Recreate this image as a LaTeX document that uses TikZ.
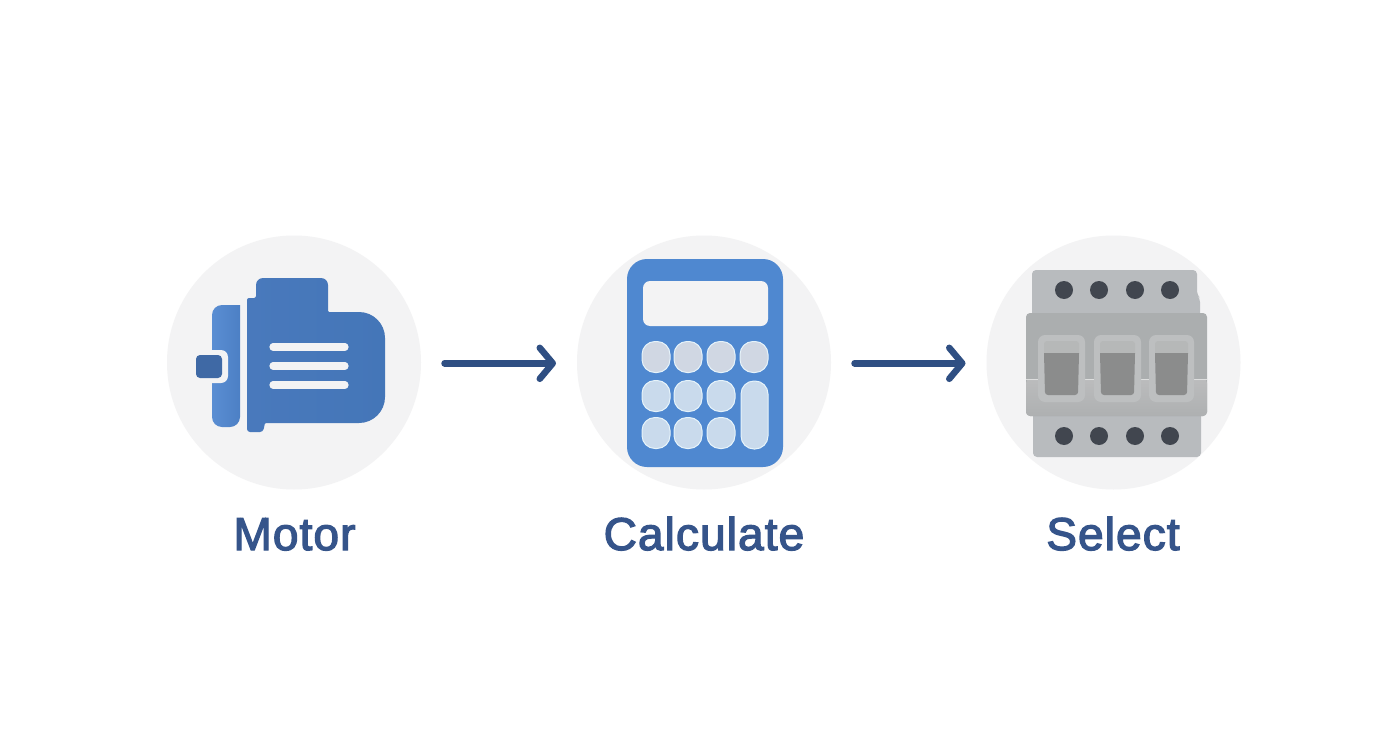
\documentclass[tikz,border=0pt]{standalone}
\usepackage{fontspec}
\usetikzlibrary{arrows.meta}
\newfontfamily\labfont[RawFeature={embolden=2.8},LetterSpace=2.4]{Liberation Sans}
\definecolor{disc}{HTML}{F3F3F4}
\definecolor{navy}{HTML}{2F4F83}
\definecolor{labc}{HTML}{35548A}
\definecolor{bodyL}{HTML}{4979BC}
\definecolor{bodyR}{HTML}{4476B8}
\definecolor{rearL}{HTML}{5A8ED3}
\definecolor{rearR}{HTML}{4C80C5}
\definecolor{plugc}{HTML}{3F69A5}
\definecolor{calcc}{HTML}{4F88D0}
\definecolor{keyc}{HTML}{C9DAEC}
\definecolor{keyg}{HTML}{D0D7E3}
\definecolor{keyline}{HTML}{E6F3FA}
\definecolor{railc}{HTML}{B8BBBE}
\definecolor{midU}{HTML}{ABAEAF}
\definecolor{midL}{HTML}{BBBCBD}
\definecolor{midB}{HTML}{AEB0B1}
\definecolor{collar}{HTML}{BDBFC0}
\definecolor{togU}{HTML}{B6B8B8}
\definecolor{togD}{HTML}{8B8C8C}
\definecolor{holec}{HTML}{41464F}
\definecolor{seam}{HTML}{DDDEDE}
\tikzset{
  x=1pt,y=-1pt,
  discnode/.style={circle,fill=disc,draw=none,minimum size=254pt,inner sep=0pt,outer sep=0pt},
  lab/.style={text=labc,font=\labfont\fontsize{46}{52}\selectfont,inner sep=0pt,anchor=base},
  flow/.style={draw=navy,line width=6.5pt,line cap=round,shorten <=23.5pt,shorten >=21pt,
    -{Straight Barb[length=13pt,width=31pt,line width=6.5pt,round]}},
  bar/.style={draw=disc,line width=7.2pt,line cap=round},
  keyb/.style={draw=keyline,line width=1pt,rounded corners=13pt},
  hole/.style={circle,fill=holec,minimum size=18pt,inner sep=0pt},
}
\begin{document}
\begin{tikzpicture}
\useasboundingbox (0,0) rectangle (1392,752);
\fill[white] (0,0) rectangle (1392,752);
\node[discnode] (motor) at (294,362.5) {};
\node[discnode] (calc) at (704,362.5) {};
\node[discnode] (breaker) at (1113.5,362.5) {};
% motor
\path[left color=rearL,right color=rearR,rounded corners=10pt]
  (240,305) -- (212,305) -- (212,427) -- (240,427) [sharp corners] -- cycle;
\fill[disc,rounded corners=7pt] (190,350) rectangle (228,383);
\path[left color=bodyL,right color=bodyR]
  [rounded corners=2pt] (247,432) -- (247,298) -- (256,298)
  [rounded corners=7pt] -- (256,278) -- (328,278)
  [rounded corners=1pt] -- (328,312)
  [rounded corners=26pt] -- (385,312) -- (385,423)
  [rounded corners=1pt] -- (265,423)
  [rounded corners=3pt] -- (263,432) -- cycle;
\fill[plugc,rounded corners=4pt] (196,355) rectangle (222,378);
\coordinate (ml1a) at (273,347); \coordinate (ml1b) at (345,347);
\coordinate (ml2a) at (273,366); \coordinate (ml2b) at (345,366);
\coordinate (ml3a) at (273,385); \coordinate (ml3b) at (345,385);
\draw[bar] (ml1a) -- (ml1b);
\draw[bar] (ml2a) -- (ml2b);
\draw[bar] (ml3a) -- (ml3b);
% calculator
\fill[calcc,rounded corners=20pt] (627,259) rectangle (783,467);
\fill[disc,rounded corners=7pt] (643,281) rectangle (768,326);
\foreach \xx in {656,688,721,754}
  \path[keyb,fill=keyg] (\xx-14,341.5) rectangle (\xx+14,372.5);
\foreach \yy in {396,433} \foreach \xx in {656,688,721}
  \path[keyb,fill=keyc] (\xx-14,\yy-15.5) rectangle (\xx+14,\yy+15.5);
\path[keyb,fill=keyc] (741,381) rectangle (768,449);
% breaker
\fill[railc,rounded corners=4pt] (1032,270) -- (1197,270) -- (1197,295) -- (1200,298) -- (1200,330) -- (1032,330) -- cycle;
\fill[railc,rounded corners=4pt] (1033,400) rectangle (1201,457);
\fill[midU,rounded corners=4pt] (1026,313) rectangle (1207,416);
\path[top color=midL,bottom color=midB,rounded corners=4pt] (1026,379) -- (1207,379) -- (1207,416) -- (1026,416) -- cycle;
\draw[line width=1.2pt,draw=seam] (1026,379.5) -- (1207,379.5);
\foreach \xa/\xb in {1038/1085,1094/1141,1149/1194}{
  \fill[collar,rounded corners=7pt] (\xa,335) rectangle (\xb,402);
  \fill[togU,rounded corners=3pt] (\xa+6,341) rectangle (\xb-6,360);
  \fill[togD] (\xa+6,353) -- (\xb-6,353) [rounded corners=3pt] -- (\xb-7,395) -- (\xa+7,395) [sharp corners] -- cycle;
}
\foreach \xx/\nn in {1064/a,1099/b,1135/c,1170/d}{
  \node[hole] (top\nn) at (\xx,290) {};
  \node[hole] (bot\nn) at (\xx,436) {};
}
% arrows
\draw[flow] ([yshift=-.8pt]motor.east) -- ([yshift=-.8pt]calc.west);
\draw[flow] ([yshift=-.8pt]calc.east) -- ([yshift=-.8pt]breaker.west);
% labels
\node[lab] (lm) at (294.5,550) {Motor};
\node[lab] (lc) at (704,550) {Calculate};
\node[lab] (ls) at (1113,550) {Select};
\end{tikzpicture}
\end{document}
